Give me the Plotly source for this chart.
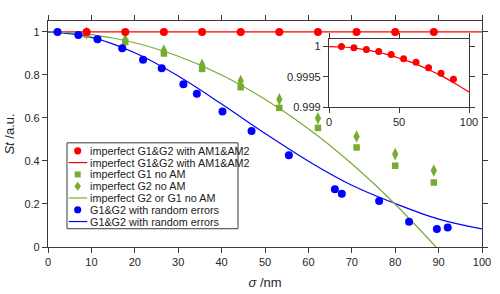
import plotly.graph_objects as go

# ---------------- data ----------------
sigma_pts = [8.9, 17.8, 26.7, 35.5, 44.4, 53.3, 62.2, 71.1, 80.0, 88.9]
st_red = [1.0, 0.99998, 0.99995, 0.99992, 0.99987, 0.99980, 0.99974, 0.99965, 0.99956, 0.99946]
st_g1_sq = [0.988, 0.953, 0.900, 0.828, 0.743, 0.647, 0.554, 0.463, 0.378, 0.300]
st_g2_dm = [0.996, 0.963, 0.913, 0.847, 0.772, 0.687, 0.599, 0.514, 0.432, 0.356]

sigma_blue = [2.2, 7.0, 11.4, 17.1, 21.9, 26.2, 31.2, 34.3, 40.2, 46.9, 55.5,
              66.1, 67.7, 76.3, 83.2, 89.6, 92.1]
st_blue = [1.0, 0.986, 0.966, 0.924, 0.871, 0.831, 0.757, 0.713, 0.630, 0.539, 0.427,
           0.269, 0.248, 0.214, 0.118, 0.084, 0.091]

red_line_x = [0, 100]
red_line_y = [1.0, 1.0]
curve_x = [0, 10, 20, 30, 40, 50, 60, 70, 80, 90, 100]
blue_curve_y = [1.0, 0.975, 0.903, 0.795, 0.665, 0.528, 0.399, 0.287, 0.202, 0.130, 0.084]
green_curve_x = [0, 10, 20, 30, 40, 50, 60, 70, 80, 89.4]
green_curve_y = [1.0, 0.988, 0.950, 0.887, 0.800, 0.687, 0.550, 0.387, 0.199, 0.0]
inset_curve_y = [1.0, 0.999993, 0.99997, 0.99993, 0.99988, 0.99981, 0.99973,
                 0.99963, 0.99952, 0.99939, 0.99925]

x_ticks = [0, 10, 20, 30, 40, 50, 60, 70, 80, 90, 100]
y_ticks = [0, 0.2, 0.4, 0.6, 0.8, 1]
y_ticklabels = ["0", "0.2", "0.4", "0.6", "0.8", "1"]
inset_x_ticks = [0, 50, 100]
inset_y_ticks = [0.999, 0.9995, 1.0]
inset_y_ticklabels = ["0.999", "0.9995", "1"]

legend_labels = [
    "imperfect G1&G2 with AM1&AM2",
    "imperfect G1&G2 with AM1&AM2",
    "imperfect G1 no AM",
    "imperfect G2 no AM",
    "imperfect G2 or G1 no AM",
    "G1&G2 with random errors",
    "G1&G2 with random errors",
]

RED = "#ff0000"
BLUE = "#0000ff"
GREEN = "#77ac30"
AX = "#3a3a3a"
FONT = "Liberation Sans"

fig = go.Figure()

# main plot
fig.add_trace(go.Scatter(x=red_line_x, y=red_line_y, mode="lines",
                         line=dict(color=RED, width=1.2), name=legend_labels[1]))
fig.add_trace(go.Scatter(x=curve_x, y=blue_curve_y, mode="lines", line_shape="spline",
                         line=dict(color=BLUE, width=1.2), name=legend_labels[6]))
fig.add_trace(go.Scatter(x=green_curve_x, y=green_curve_y, mode="lines", line_shape="spline",
                         line=dict(color=GREEN, width=1.2), name=legend_labels[4]))
fig.add_trace(go.Scatter(x=sigma_pts, y=st_g1_sq, mode="markers",
                         marker=dict(symbol="square", size=6.5, color=GREEN), name=legend_labels[2]))
fig.add_trace(go.Scatter(x=sigma_pts, y=st_g2_dm, mode="markers",
                         marker=dict(symbol="diamond-tall", size=9, color=GREEN), name=legend_labels[3]))
fig.add_trace(go.Scatter(x=sigma_pts, y=st_red, mode="markers",
                         marker=dict(symbol="circle", size=8, color=RED), name=legend_labels[0]))
fig.add_trace(go.Scatter(x=sigma_blue, y=st_blue, mode="markers",
                         marker=dict(symbol="circle", size=8, color=BLUE), name=legend_labels[5]))

# inset
fig.add_trace(go.Scatter(x=curve_x, y=inset_curve_y, mode="lines", line_shape="spline",
                         line=dict(color=RED, width=1.2), xaxis="x2", yaxis="y2",
                         name=legend_labels[1]))
fig.add_trace(go.Scatter(x=sigma_pts, y=st_red, mode="markers",
                         marker=dict(symbol="circle", size=7, color=RED), xaxis="x2", yaxis="y2",
                         name=legend_labels[0]))

# ------------- layout -------------
L, R, T, B = 48, 18, 21, 46.7
W, H = 500, 294
PW, PH = W - L - R, H - T - B


def px_x(p):
    return (p - L) / PW


def px_y(p):
    return (H - B - p) / PH


axis_common = dict(showline=True, linecolor=AX, linewidth=1.2, ticks="outside", ticklen=5,
                   tickcolor=AX, tickwidth=1, mirror="ticks", showgrid=False, zeroline=False,
                   automargin=False,
                   tickfont=dict(family=FONT, size=11, color="#262626"))

fig.update_layout(
    width=W, height=H,
    margin=dict(l=L, r=R, t=T, b=B, autoexpand=False),
    paper_bgcolor="white", plot_bgcolor="white",
    showlegend=False,
    font=dict(family=FONT, size=11, color="#262626"),
    xaxis=dict(range=[0, 100], tickvals=x_ticks, domain=[0, 1],
               title=dict(text="<i>σ</i> /nm", font=dict(family=FONT, size=13), standoff=10),
               **axis_common),
    yaxis=dict(range=[0, 1.051], tickvals=y_ticks, ticktext=y_ticklabels, domain=[0, 1],
               title=dict(text="<i>St</i> /a.u.", font=dict(family=FONT, size=13), standoff=6),
               **axis_common),
    xaxis2=dict(range=[0, 100], tickvals=inset_x_ticks, anchor="y2",
                domain=[px_x(329), px_x(469)], **axis_common),
    yaxis2=dict(range=[0.999, 1.00012], tickvals=inset_y_ticks, ticktext=inset_y_ticklabels,
                anchor="x2", domain=[px_y(107.3), px_y(39.3)], **axis_common),
)

# ------------- hand-built compact legend -------------
shapes = [dict(type="rect", xref="paper", yref="paper",
               x0=px_x(67), x1=px_x(238), y0=px_y(229), y1=px_y(143),
               line=dict(color=AX, width=1), fillcolor="white", layer="above")]
row_y = [151 + 11.8 * i for i in range(7)]
sym_x = 77.7
kinds = [("circle", RED), ("line", RED), ("square", GREEN), ("diamond", GREEN),
         ("line", GREEN), ("circle", BLUE), ("line", BLUE)]
annotations = []
for (kind, col), ry, lab in zip(kinds, row_y, legend_labels):
    ax_, ay_ = px_x(sym_x), px_y(ry)
    base = dict(xref="paper", yref="paper", xsizemode="pixel", ysizemode="pixel",
                xanchor=ax_, yanchor=ay_, layer="above")
    if kind == "circle":
        shapes.append(dict(type="circle", x0=-3.6, x1=3.6, y0=-3.6, y1=3.6,
                           fillcolor=col, line=dict(color=col, width=0), **base))
    elif kind == "square":
        shapes.append(dict(type="rect", x0=-3, x1=3, y0=-3, y1=3,
                           fillcolor=col, line=dict(color=col, width=0), **base))
    elif kind == "diamond":
        shapes.append(dict(type="path", path="M0,4.5 L3.3,0 L0,-4.5 L-3.3,0 Z",
                           fillcolor=col, line=dict(color=col, width=0), **base))
    else:
        shapes.append(dict(type="line", x0=-9, x1=9.5, y0=0, y1=0,
                           line=dict(color=col, width=1.2), **base))
    annotations.append(dict(xref="paper", yref="paper", x=px_x(87.5), y=ay_, text=lab,
                            showarrow=False, xanchor="left", yanchor="middle",
                            font=dict(family=FONT, size=10.8, color="#1a1a1a")))

fig.update_layout(shapes=shapes, annotations=annotations)

fig.write_html("out.html", config={"displayModeBar": False},
               post_script="document.body.style.margin='0px';document.body.style.padding='0px';")
